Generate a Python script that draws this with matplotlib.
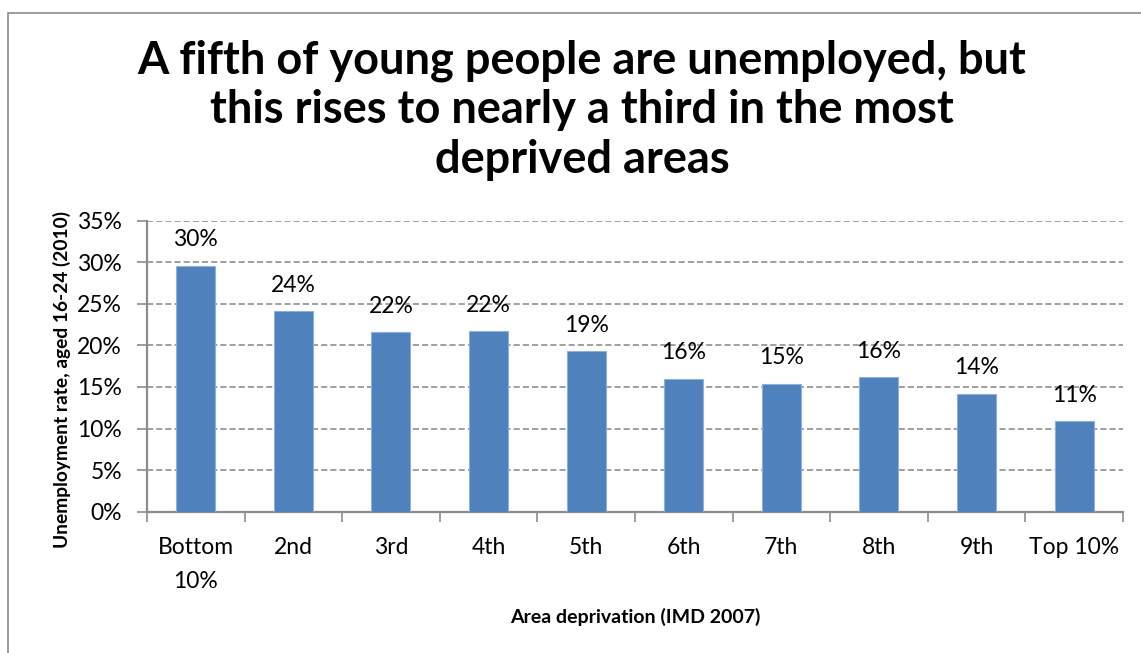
import matplotlib.pyplot as plt
from matplotlib.patches import Rectangle
from matplotlib.ticker import FixedLocator, PercentFormatter

plt.rcParams['font.family'] = ['Lato', 'DejaVu Sans']

categories = ["Bottom\n10%", "2nd", "3rd", "4th", "5th", "6th", "7th", "8th", "9th", "Top 10%"]
rates = [29.6, 24.1, 21.6, 21.7, 19.3, 16.0, 15.4, 16.2, 14.2, 10.9]
bar_labels = ["30%", "24%", "22%", "22%", "19%", "16%", "15%", "16%", "14%", "11%"]

fig = plt.figure(figsize=(11.41, 6.53), dpi=100)
ax = fig.add_axes([0.1288, 0.2164, 0.8554, 0.4456])

# outer chart frame, open to the right and bottom edges
fig.patches.append(Rectangle((8 / 1141, -0.05), 1.1, 1 - 13 / 653 + 0.05,
                             transform=fig.transFigure, fill=False,
                             edgecolor='#8c8c8c', linewidth=1.2))

x = list(range(len(categories)))
bars = ax.bar(x, rates, width=0.4, color='#4F81BD', edgecolor='#8fb0dc', linewidth=0.8, zorder=3)

for b, lab in zip(bars, bar_labels):
    ax.annotate(lab, (b.get_x() + b.get_width() / 2, b.get_height()),
                xytext=(0, 11), textcoords='offset points',
                ha='center', va='bottom', fontsize=16.5)

ax.set_xlim(-0.5, len(categories) - 0.5)
ax.set_ylim(0, 35)
ax.set_yticks(range(0, 36, 5))
ax.yaxis.set_major_formatter(PercentFormatter(decimals=0))
ax.yaxis.grid(True, linestyle=(0, (4, 2)), color='#868686', linewidth=1.1, zorder=0)

# ticks between categories, labels centred under bars
ax.xaxis.set_major_locator(FixedLocator([i - 0.5 for i in range(len(categories) + 1)]))
ax.xaxis.set_minor_locator(FixedLocator(x))
ax.set_xticklabels([], minor=False)
ax.set_xticklabels(categories, minor=True, fontsize=16.5, linespacing=1.8)
ax.tick_params(axis='x', which='major', length=7, width=1.2, color='#8c8c8c')
ax.tick_params(axis='x', which='minor', length=0, pad=18)
ax.tick_params(axis='y', length=7, width=1.2, color='#8c8c8c', pad=11, labelsize=16.5)

for side in ['top', 'right']:
    ax.spines[side].set_visible(False)
for side in ['left', 'bottom']:
    ax.spines[side].set_color('#8c8c8c')
    ax.spines[side].set_linewidth(1.6)

fig.text(582 / 1141, 1 - 110 / 653,
         "A fifth of young people are unemployed, but\nthis rises to nearly a third in the most\ndeprived areas",
         ha='center', va='center', fontsize=32.5, fontweight='bold', linespacing=1.22)

fig.text(62 / 1141, 1 - 380 / 653, "Unemployment rate, aged 16-24 (2010)",
         rotation=90, ha='center', va='center', fontsize=13.8, fontweight='bold')
fig.text(635 / 1141, 1 - 617 / 653, "Area deprivation (IMD 2007)",
         ha='center', va='center', fontsize=14, fontweight='bold')

fig.savefig('out.png', dpi=100)
